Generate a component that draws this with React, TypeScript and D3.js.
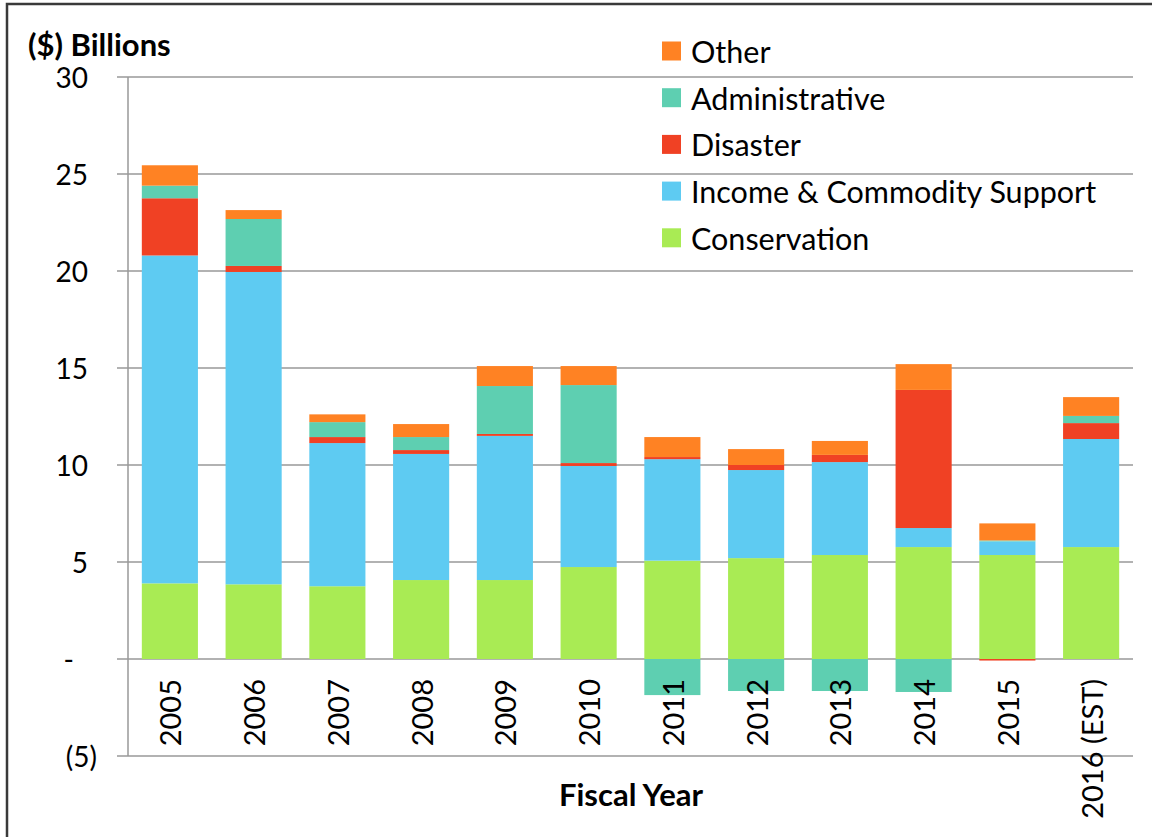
import React from "react";
import * as d3 from "d3";

// Fiscal years (x categories)
const years = ["2005", "2006", "2007", "2008", "2009", "2010", "2011", "2012", "2013", "2014", "2015", "2016 (EST)"];

// Series values, $ billions
const conservation = [3.9, 3.85, 3.75, 4.07, 4.07, 4.74, 5.07, 5.2, 5.36, 5.77, 5.36, 5.77];
const incomeSupport = [16.9, 16.1, 7.38, 6.5, 7.43, 5.21, 5.23, 4.54, 4.79, 0.98, 0.7, 5.57];
const disaster = [2.95, 0.31, 0.31, 0.2, 0.1, 0.15, 0.11, 0.26, 0.37, 7.12, -0.08, 0.82];
const administrative = [0.65, 2.42, 0.77, 0.67, 2.47, 4.02, -1.86, -1.65, -1.65, -1.7, 0.05, 0.37];
const other = [1.05, 0.46, 0.4, 0.67, 1.03, 0.98, 1.03, 0.82, 0.72, 1.33, 0.88, 0.97];

const seriesNames = ["Conservation", "Income & Commodity Support", "Disaster", "Administrative", "Other"];
const seriesColors = ["#a9eb54", "#5ecbf2", "#f04124", "#5ecfb1", "#ff8223"];
const yTicks = [-5, 0, 5, 10, 15, 20, 25, 30];

const W = 1152, H = 837;
const plot = { left: 128, right: 1133, top: 77, bottom: 756 };
const FONT = "Lato, 'Open Sans', sans-serif";

const rows = years.map((y, i) => ({
  year: y,
  Conservation: conservation[i],
  "Income & Commodity Support": incomeSupport[i],
  Disaster: disaster[i],
  Administrative: administrative[i],
  Other: other[i],
}));

// accounting style labels: 30, -, (5)
const fmtTick = (d: number) => (d === 0 ? "-" : d < 0 ? `(${-d})` : `${d}`);
const tickEnd = (d: number) => (d === 0 ? 74 : d < 0 ? 97 : 88);

export default function App() {
  const x = d3.scaleBand().domain(years).range([plot.left, plot.right]).paddingInner(0.33).paddingOuter(0.165);
  const y = d3.scaleLinear().domain([-5, 30]).range([plot.bottom, plot.top]);
  const stack = d3.stack<any>().keys(seriesNames).offset(d3.stackOffsetDiverging);
  const layers = stack(rows);
  const color = d3.scaleOrdinal<string, string>().domain(seriesNames).range(seriesColors);

  // legend shows top series first
  const legendItems = [...seriesNames].reverse();

  return (
    <svg width={W} height={H} style={{ display: "block", position: "absolute", left: 0, top: 0, background: "#fff" }}>
      <rect x={7} y={4} width={W + 10} height={H + 10} fill="#fff" stroke="#3a3a3a" strokeWidth={2.5} />

      {/* gridlines + tick marks */}
      {yTicks.map((t) => (
        <line key={t} x1={117} x2={plot.right} y1={y(t)} y2={y(t)} stroke="#999" strokeWidth={1.5} />
      ))}
      <line x1={plot.left} x2={plot.left} y1={plot.top} y2={plot.bottom} stroke="#999" strokeWidth={1.5} />

      {/* bars */}
      {layers.map((layer) => (
        <g key={layer.key} fill={color(layer.key)}>
          {layer.map((d, i) => {
            const y0 = y(d[0]), y1 = y(d[1]);
            return (
              <rect key={i} x={x(years[i])} width={x.bandwidth()} y={Math.min(y0, y1)} height={Math.abs(y1 - y0)} />
            );
          })}
        </g>
      ))}

      {/* y tick labels */}
      {yTicks.map((t) => (
        <text key={t} x={tickEnd(t)} y={y(t)} textAnchor="end" dominantBaseline="central" fontFamily={FONT} fontSize={28} fill="#000">
          {fmtTick(t)}
        </text>
      ))}

      {/* x labels */}
      {years.map((yr) => {
        const cx = (x(yr) as number) + x.bandwidth() / 2;
        return (
          <text key={yr} transform={`translate(${cx},679) rotate(-90)`} textAnchor="end" dominantBaseline="central" fontFamily={FONT} fontSize={29} fill="#000">
            {yr}
          </text>
        );
      })}

      <text x={28} y={56} fontFamily={FONT} fontWeight="bold" fontSize={31} fill="#000">($) Billions</text>
      <text x={631} y={806} textAnchor="middle" fontFamily={FONT} fontWeight="bold" fontSize={31} fill="#000">Fiscal Year</text>

      {/* legend */}
      {legendItems.map((name, i) => {
        const cy = 51 + i * 46.7;
        return (
          <g key={name}>
            <rect x={662} y={cy - 9.5} width={19} height={19} fill={color(name)} />
            <text x={691} y={cy} dominantBaseline="central" fontFamily={FONT} fontSize={30.5} fill="#000">{name}</text>
          </g>
        );
      })}
    </svg>
  );
}
